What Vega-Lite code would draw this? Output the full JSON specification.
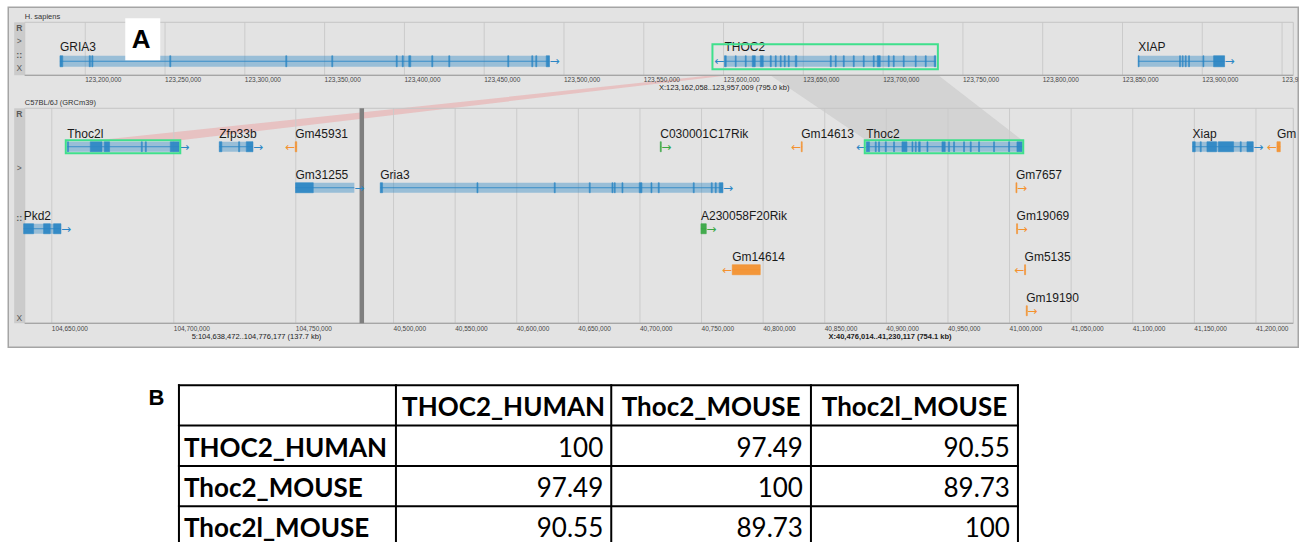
{
"$schema":"https://vega.github.io/schema/vega-lite/v6.json",
"padding":{"left":7.25,"top":6.25,"right":0,"bottom":0},
"autosize":{"type":"pad"},
"background":"#ffffff",
"spacing":0,
"bounds":"flush",
"config":{"view":{"stroke":null},"text":{"font":"Liberation Sans"}},
"datasets":{
"hGenes":[
{"name":"GRIA3","start":123184153,"end":123490915,"strand":"+","lane":0,"type":"protein_coding"},
{"name":"THOC2","start":123600561,"end":123733056,"strand":"-","lane":0,"type":"protein_coding"},
{"name":"XIAP","start":123859812,"end":123913982,"strand":"+","lane":0,"type":"protein_coding"}],
"hExons":[
{"gene":"GRIA3","start":123184153,"end":123185900,"lane":0,"type":"protein_coding"},
{"gene":"GRIA3","start":123202500,"end":123203200,"lane":0,"type":"protein_coding"},
{"gene":"GRIA3","start":123204100,"end":123204800,"lane":0,"type":"protein_coding"},
{"gene":"GRIA3","start":123252955,"end":123253600,"lane":0,"type":"protein_coding"},
{"gene":"GRIA3","start":123325649,"end":123326300,"lane":0,"type":"protein_coding"},
{"gene":"GRIA3","start":123354477,"end":123355100,"lane":0,"type":"protein_coding"},
{"gene":"GRIA3","start":123394897,"end":123395500,"lane":0,"type":"protein_coding"},
{"gene":"GRIA3","start":123398658,"end":123399300,"lane":0,"type":"protein_coding"},
{"gene":"GRIA3","start":123402731,"end":123403985,"lane":0,"type":"protein_coding"},
{"gene":"GRIA3","start":123417145,"end":123417800,"lane":0,"type":"protein_coding"},
{"gene":"GRIA3","start":123427798,"end":123428450,"lane":0,"type":"protein_coding"},
{"gene":"GRIA3","start":123464772,"end":123465400,"lane":0,"type":"protein_coding"},
{"gene":"GRIA3","start":123479813,"end":123480450,"lane":0,"type":"protein_coding"},
{"gene":"GRIA3","start":123482319,"end":123482950,"lane":0,"type":"protein_coding"},
{"gene":"GRIA3","start":123488899,"end":123490915,"lane":0,"type":"protein_coding"},
{"gene":"THOC2","start":123600561,"end":123601702,"lane":0,"type":"protein_coding"},
{"gene":"THOC2","start":123607342,"end":123607900,"lane":0,"type":"protein_coding"},
{"gene":"THOC2","start":123613609,"end":123614200,"lane":0,"type":"protein_coding"},
{"gene":"THOC2","start":123617996,"end":123619876,"lane":0,"type":"protein_coding"},
{"gene":"THOC2","start":123623009,"end":123624889,"lane":0,"type":"protein_coding"},
{"gene":"THOC2","start":123629276,"end":123629900,"lane":0,"type":"protein_coding"},
{"gene":"THOC2","start":123632409,"end":123633000,"lane":0,"type":"protein_coding"},
{"gene":"THOC2","start":123635543,"end":123636100,"lane":0,"type":"protein_coding"},
{"gene":"THOC2","start":123638049,"end":123638650,"lane":0,"type":"protein_coding"},
{"gene":"THOC2","start":123640556,"end":123641150,"lane":0,"type":"protein_coding"},
{"gene":"THOC2","start":123644943,"end":123645900,"lane":0,"type":"protein_coding"},
{"gene":"THOC2","start":123666877,"end":123667500,"lane":0,"type":"protein_coding"},
{"gene":"THOC2","start":123670010,"end":123670600,"lane":0,"type":"protein_coding"},
{"gene":"THOC2","start":123675023,"end":123675650,"lane":0,"type":"protein_coding"},
{"gene":"THOC2","start":123681290,"end":123681900,"lane":0,"type":"protein_coding"},
{"gene":"THOC2","start":123687557,"end":123688150,"lane":0,"type":"protein_coding"},
{"gene":"THOC2","start":123693824,"end":123694400,"lane":0,"type":"protein_coding"},
{"gene":"THOC2","start":123696331,"end":123698211,"lane":0,"type":"protein_coding"},
{"gene":"THOC2","start":123703224,"end":123703800,"lane":0,"type":"protein_coding"},
{"gene":"THOC2","start":123706357,"end":123706950,"lane":0,"type":"protein_coding"},
{"gene":"THOC2","start":123712624,"end":123713200,"lane":0,"type":"protein_coding"},
{"gene":"THOC2","start":123720144,"end":123720700,"lane":0,"type":"protein_coding"},
{"gene":"THOC2","start":123726411,"end":123727000,"lane":0,"type":"protein_coding"},
{"gene":"THOC2","start":123732051,"end":123733056,"lane":0,"type":"protein_coding"},
{"gene":"XIAP","start":123859812,"end":123860400,"lane":0,"type":"protein_coding"},
{"gene":"XIAP","start":123885776,"end":123886300,"lane":0,"type":"protein_coding"},
{"gene":"XIAP","start":123887468,"end":123888000,"lane":0,"type":"protein_coding"},
{"gene":"XIAP","start":123889348,"end":123889900,"lane":0,"type":"protein_coding"},
{"gene":"XIAP","start":123891416,"end":123892000,"lane":0,"type":"protein_coding"},
{"gene":"XIAP","start":123900440,"end":123901000,"lane":0,"type":"protein_coding"},
{"gene":"XIAP","start":123907083,"end":123913982,"lane":0,"type":"protein_coding"}],
"c5Genes":[
{"name":"Thoc2l","start":104656352,"end":104702254,"strand":"+","lane":0,"type":"protein_coding"},
{"name":"Zfp33b","start":104718648,"end":104732459,"strand":"+","lane":0,"type":"protein_coding"},
{"name":"Gm45931","start":104749795,"end":104750400,"strand":"-","lane":0,"type":"pseudogene"},
{"name":"Gm31255","start":104749900,"end":104774000,"strand":"+","lane":1,"type":"protein_coding"},
{"name":"Pkd2","start":104638472,"end":104653770,"strand":"+","lane":2,"type":"protein_coding"}],
"c5Exons":[
{"gene":"Thoc2l","start":104656352,"end":104656885,"lane":0,"type":"protein_coding"},
{"gene":"Thoc2l","start":104665778,"end":104670573,"lane":0,"type":"protein_coding"},
{"gene":"Thoc2l","start":104671516,"end":104673688,"lane":0,"type":"protein_coding"},
{"gene":"Thoc2l","start":104686680,"end":104687100,"lane":0,"type":"protein_coding"},
{"gene":"Thoc2l","start":104688320,"end":104688750,"lane":0,"type":"protein_coding"},
{"gene":"Thoc2l","start":104698566,"end":104702254,"lane":0,"type":"protein_coding"},
{"gene":"Zfp33b","start":104718648,"end":104719700,"lane":0,"type":"protein_coding"},
{"gene":"Zfp33b","start":104726558,"end":104727000,"lane":0,"type":"protein_coding"},
{"gene":"Zfp33b","start":104729713,"end":104732459,"lane":0,"type":"protein_coding"},
{"gene":"Gm45931","start":104749795,"end":104750400,"lane":0,"type":"pseudogene"},
{"gene":"Gm31255","start":104749900,"end":104757172,"lane":1,"type":"protein_coding"},
{"gene":"Pkd2","start":104638472,"end":104642540,"lane":2,"type":"protein_coding"},
{"gene":"Pkd2","start":104646639,"end":104649385,"lane":2,"type":"protein_coding"},
{"gene":"Pkd2","start":104650737,"end":104653770,"lane":2,"type":"protein_coding"}],
"xGenes":[
{"name":"Gria3","start":40489205,"end":40767370,"strand":"+","lane":1,"type":"protein_coding"},
{"name":"C030001C17Rik","start":40716478,"end":40717300,"strand":"+","lane":0,"type":"lncRNA"},
{"name":"Gm14613","start":40830926,"end":40831700,"strand":"-","lane":0,"type":"pseudogene"},
{"name":"Thoc2","start":40883686,"end":41010310,"strand":"-","lane":0,"type":"protein_coding"},
{"name":"Xiap","start":41148540,"end":41197810,"strand":"+","lane":0,"type":"protein_coding"},
{"name":"Gm","start":41217047,"end":41219750,"strand":"-","lane":0,"type":"pseudogene"},
{"name":"A230058F20Rik","start":40749514,"end":40753815,"strand":"+","lane":2,"type":"lncRNA"},
{"name":"Gm14614","start":40774919,"end":40797647,"strand":"-","lane":3,"type":"pseudogene"},
{"name":"Gm7657","start":41005196,"end":41006000,"strand":"+","lane":1,"type":"pseudogene"},
{"name":"Gm19069","start":41005700,"end":41006500,"strand":"+","lane":2,"type":"pseudogene"},
{"name":"Gm5135","start":41012176,"end":41013000,"strand":"-","lane":3,"type":"pseudogene"},
{"name":"Gm19190","start":41013556,"end":41014400,"strand":"+","lane":4,"type":"pseudogene"}],
"xExons":[
{"gene":"Gria3","start":40489205,"end":40491071,"lane":1,"type":"protein_coding"},
{"gene":"Gria3","start":40567695,"end":40568500,"lane":1,"type":"protein_coding"},
{"gene":"Gria3","start":40630439,"end":40631250,"lane":1,"type":"protein_coding"},
{"gene":"Gria3","start":40658848,"end":40659650,"lane":1,"type":"protein_coding"},
{"gene":"Gria3","start":40677273,"end":40678080,"lane":1,"type":"protein_coding"},
{"gene":"Gria3","start":40679140,"end":40679950,"lane":1,"type":"protein_coding"},
{"gene":"Gria3","start":40685390,"end":40686200,"lane":1,"type":"protein_coding"},
{"gene":"Gria3","start":40699432,"end":40701623,"lane":1,"type":"protein_coding"},
{"gene":"Gria3","start":40708929,"end":40709740,"lane":1,"type":"protein_coding"},
{"gene":"Gria3","start":40714854,"end":40715660,"lane":1,"type":"protein_coding"},
{"gene":"Gria3","start":40743263,"end":40744070,"lane":1,"type":"protein_coding"},
{"gene":"Gria3","start":40757874,"end":40758680,"lane":1,"type":"protein_coding"},
{"gene":"Gria3","start":40761121,"end":40761930,"lane":1,"type":"protein_coding"},
{"gene":"Gria3","start":40764367,"end":40767370,"lane":1,"type":"protein_coding"},
{"gene":"C030001C17Rik","start":40716478,"end":40717300,"lane":0,"type":"lncRNA"},
{"gene":"Gm14613","start":40830926,"end":40831700,"lane":0,"type":"pseudogene"},
{"gene":"Thoc2","start":40883686,"end":40886363,"lane":0,"type":"protein_coding"},
{"gene":"Thoc2","start":40890991,"end":40891800,"lane":0,"type":"protein_coding"},
{"gene":"Thoc2","start":40893670,"end":40894480,"lane":0,"type":"protein_coding"},
{"gene":"Thoc2","start":40899108,"end":40899920,"lane":0,"type":"protein_coding"},
{"gene":"Thoc2","start":40905845,"end":40906650,"lane":0,"type":"protein_coding"},
{"gene":"Thoc2","start":40912663,"end":40916722,"lane":0,"type":"protein_coding"},
{"gene":"Thoc2","start":40920780,"end":40921590,"lane":0,"type":"protein_coding"},
{"gene":"Thoc2","start":40923459,"end":40924270,"lane":0,"type":"protein_coding"},
{"gene":"Thoc2","start":40926137,"end":40927517,"lane":0,"type":"protein_coding"},
{"gene":"Thoc2","start":40932955,"end":40933770,"lane":0,"type":"protein_coding"},
{"gene":"Thoc2","start":40945131,"end":40947809,"lane":0,"type":"protein_coding"},
{"gene":"Thoc2","start":40950488,"end":40951300,"lane":0,"type":"protein_coding"},
{"gene":"Thoc2","start":40954546,"end":40955360,"lane":0,"type":"protein_coding"},
{"gene":"Thoc2","start":40962663,"end":40963470,"lane":0,"type":"protein_coding"},
{"gene":"Thoc2","start":40968101,"end":40968910,"lane":0,"type":"protein_coding"},
{"gene":"Thoc2","start":40974839,"end":40975650,"lane":0,"type":"protein_coding"},
{"gene":"Thoc2","start":40987014,"end":40987820,"lane":0,"type":"protein_coding"},
{"gene":"Thoc2","start":40999189,"end":41000000,"lane":0,"type":"protein_coding"},
{"gene":"Thoc2","start":41006007,"end":41010310,"lane":0,"type":"protein_coding"},
{"gene":"Xiap","start":41148540,"end":41150732,"lane":0,"type":"protein_coding"},
{"gene":"Xiap","start":41154790,"end":41155600,"lane":0,"type":"protein_coding"},
{"gene":"Xiap","start":41160229,"end":41168000,"lane":0,"type":"protein_coding"},
{"gene":"Xiap","start":41169500,"end":41181820,"lane":0,"type":"protein_coding"},
{"gene":"Xiap","start":41187258,"end":41188070,"lane":0,"type":"protein_coding"},
{"gene":"Xiap","start":41192696,"end":41197810,"lane":0,"type":"protein_coding"},
{"gene":"Gm","start":41217047,"end":41219750,"lane":0,"type":"pseudogene"},
{"gene":"A230058F20Rik","start":40749514,"end":40753815,"lane":2,"type":"lncRNA"},
{"gene":"Gm14614","start":40774919,"end":40797647,"lane":3,"type":"pseudogene"},
{"gene":"Gm7657","start":41005196,"end":41006000,"lane":1,"type":"pseudogene"},
{"gene":"Gm19069","start":41005700,"end":41006500,"lane":2,"type":"pseudogene"},
{"gene":"Gm5135","start":41012176,"end":41013000,"lane":3,"type":"pseudogene"},
{"gene":"Gm19190","start":41013556,"end":41014400,"lane":4,"type":"pseudogene"}],
"hTicks":[{"pos":123150000},{"pos":123200000},{"pos":123250000},{"pos":123300000},{"pos":123350000},{"pos":123400000},{"pos":123450000},{"pos":123500000},{"pos":123550000},{"pos":123600000},{"pos":123650000},{"pos":123700000},{"pos":123750000},{"pos":123800000},{"pos":123850000},{"pos":123900000},{"pos":123950000}],
"c5Ticks":[{"pos":104650000},{"pos":104700000},{"pos":104750000}],
"xTicks":[{"pos":40500000},{"pos":40550000},{"pos":40600000},{"pos":40650000},{"pos":40700000},{"pos":40750000},{"pos":40800000},{"pos":40850000},{"pos":40900000},{"pos":40950000},{"pos":41000000},{"pos":41050000},{"pos":41100000},{"pos":41150000},{"pos":41200000}],
"links":[
{"link":"THOC2-Thoc2l","pos":123207520,"top":1,"bot":1},
{"link":"THOC2-Thoc2l","pos":123259535,"top":0.865,"bot":1},
{"link":"THOC2-Thoc2l","pos":123592928,"top":0,"bot":0.029},
{"link":"THOC2-Thoc2l","pos":123602955,"top":0,"bot":0},
{"link":"THOC2-Thoc2","pos":123629276,"top":0,"bot":0},
{"link":"THOC2-Thoc2","pos":123689437,"top":0,"bot":1},
{"link":"THOC2-Thoc2","pos":123734558,"top":0,"bot":1},
{"link":"THOC2-Thoc2","pos":123787199,"top":1,"bot":1}],
"highlights":[
{"asm":"hg38","start":123600561,"end":123733056,"lane":0},
{"asm":"chr5","start":104656352,"end":104702254,"lane":0},
{"asm":"chrX","start":40883686,"end":41010310,"lane":0}],
"cols":[{"ci":0,"col":""},{"ci":1,"col":"THOC2_HUMAN"},{"ci":2,"col":"Thoc2_MOUSE"},{"ci":3,"col":"Thoc2l_MOUSE"}],
"rows":[{"ri":0,"row":""},{"ri":1,"row":"THOC2_HUMAN"},{"ri":2,"row":"Thoc2_MOUSE"},{"ri":3,"row":"Thoc2l_MOUSE"}],
"identity":[
{"ri":1,"ci":1,"pct":100},{"ri":1,"ci":2,"pct":97.49},{"ri":1,"ci":3,"pct":90.55},
{"ri":2,"ci":1,"pct":97.49},{"ri":2,"ci":2,"pct":100},{"ri":2,"ci":3,"pct":89.73},
{"ri":3,"ci":1,"pct":90.55},{"ri":3,"ci":2,"pct":89.73},{"ri":3,"ci":3,"pct":100}]
},
"vconcat":[
{"width":1290,"height":340,
"view":{"fill":"#e3e3e3","stroke":"#a5a5a5","strokeWidth":1.5},
"resolve":{"scale":{"x":"independent","y":"independent"}},
"layer":[
{"data":{"name":"links"},"transform":[{"filter":"datum.link === 'THOC2-Thoc2l'"}],"mark":{"type":"area","color":"#ee7b7b","opacity":0.32},
 "encoding":{"x":{"field":"pos","type":"quantitative","scale":{"domain":[123162058,123957009],"range":[16.46,1285],"nice":false,"zero":false},"axis":null},
 "y":{"field":"top","type":"quantitative","scale":{"domain":[0,1],"range":[68,133],"nice":false,"zero":false},"axis":null},"y2":{"field":"bot"}}},
{"data":{"name":"links"},"transform":[{"filter":"datum.link === 'THOC2-Thoc2'"}],"mark":{"type":"area","color":"#6f6f6f","opacity":0.14},
 "encoding":{"x":{"field":"pos","type":"quantitative","scale":{"domain":[123162058,123957009],"range":[16.46,1285],"nice":false,"zero":false},"axis":null},
 "y":{"field":"top","type":"quantitative","scale":{"domain":[0,1],"range":[68,133],"nice":false,"zero":false},"axis":null},"y2":{"field":"bot"}}},

{"data":{"name":"hTicks"},"transform":[{"filter":"datum.pos > 123162058"}],"mark":{"type":"rule","color":"#cbcbcb","strokeWidth":1},
 "encoding":{"x":{"field":"pos","type":"quantitative","scale":{"domain":[123162058,123957009],"range":[16.46,1285],"nice":false,"zero":false},"axis":null},
 "y":{"datum":-0.951,"type":"quantitative","scale":{"domain":[-0.951,0.341],"range":[15,68],"nice":false,"zero":false},"axis":null},"y2":{"datum":0.341}}},
{"data":{"name":"c5Ticks"},"mark":{"type":"rule","color":"#cbcbcb","strokeWidth":1},
 "encoding":{"x":{"field":"pos","type":"quantitative","scale":{"domain":[104638472,104776177],"range":[15.4,351.4],"nice":false,"zero":false},"axis":null},
 "y":{"datum":-0.939,"type":"quantitative","scale":{"domain":[-0.939,4.305],"range":[101,316],"nice":false,"zero":false},"axis":null},"y2":{"datum":4.305}}},
{"data":{"name":"xTicks"},"mark":{"type":"rule","color":"#cbcbcb","strokeWidth":1},
 "encoding":{"x":{"field":"pos","type":"quantitative","scale":{"domain":[40476014,41230117],"range":[355.75,1284.8],"nice":false,"zero":false},"axis":null},
 "y":{"datum":-0.939,"type":"quantitative","scale":{"domain":[-0.939,4.305],"range":[101,316],"nice":false,"zero":false},"axis":null},"y2":{"datum":4.305}}},

{"data":{"values":[{}]},"mark":{"type":"rect","filled":false,"color":"#c4c4c4","strokeWidth":1},
 "encoding":{"x":{"datum":123162058,"type":"quantitative","scale":{"domain":[123162058,123957009],"range":[16.46,1285],"nice":false,"zero":false},"axis":null},"x2":{"datum":123957009},
 "y":{"datum":-0.951,"type":"quantitative","scale":{"domain":[-0.951,0.341],"range":[15,68],"nice":false,"zero":false},"axis":null},"y2":{"datum":0.341}}},
{"data":{"values":[{}]},"mark":{"type":"rect","filled":false,"color":"#c4c4c4","strokeWidth":1},
 "encoding":{"x":{"datum":123162058,"type":"quantitative","scale":{"domain":[123162058,123957009],"range":[16.46,1285],"nice":false,"zero":false},"axis":null},"x2":{"datum":123957009},
 "y":{"datum":-0.939,"type":"quantitative","scale":{"domain":[-0.939,4.305],"range":[101,316],"nice":false,"zero":false},"axis":null},"y2":{"datum":4.305}}},
{"data":{"values":[{}]},"mark":{"type":"rect","color":"#cbcbcb","xOffset":-10.5},
 "encoding":{"x":{"datum":123162058,"type":"quantitative","scale":{"domain":[123162058,123957009],"range":[16.46,1285],"nice":false,"zero":false},"axis":null},"x2":{"datum":123162058},
 "y":{"datum":-0.951,"type":"quantitative","scale":{"domain":[-0.951,0.341],"range":[15,68],"nice":false,"zero":false},"axis":null},"y2":{"datum":0.341}}},
{"data":{"values":[{}]},"mark":{"type":"rect","color":"#cbcbcb","xOffset":-10.5},
 "encoding":{"x":{"datum":123162058,"type":"quantitative","scale":{"domain":[123162058,123957009],"range":[16.46,1285],"nice":false,"zero":false},"axis":null},"x2":{"datum":123162058},
 "y":{"datum":-0.939,"type":"quantitative","scale":{"domain":[-0.939,4.305],"range":[101,316],"nice":false,"zero":false},"axis":null},"y2":{"datum":4.305}}},
{"data":{"values":[{}]},"mark":{"type":"rule","color":"#9b9b9b","strokeWidth":1},
 "encoding":{"x":{"datum":123162058,"type":"quantitative","scale":{"domain":[123162058,123957009],"range":[16.46,1285],"nice":false,"zero":false},"axis":null},"x2":{"datum":123957009},
 "y":{"datum":0.341,"type":"quantitative","scale":{"domain":[-0.951,0.341],"range":[15,68],"nice":false,"zero":false},"axis":null}}},
{"data":{"values":[{}]},"mark":{"type":"rule","color":"#9b9b9b","strokeWidth":1},
 "encoding":{"x":{"datum":123162058,"type":"quantitative","scale":{"domain":[123162058,123957009],"range":[16.46,1285],"nice":false,"zero":false},"axis":null},"x2":{"datum":123957009},
 "y":{"datum":4.305,"type":"quantitative","scale":{"domain":[-0.939,4.305],"range":[101,316],"nice":false,"zero":false},"axis":null}}},

{"data":{"name":"hTicks"},"transform":[{"filter":"datum.pos > 123162058"}],"mark":{"type":"text","align":"left","baseline":"middle","dy":4.5,"fontSize":6.5,"color":"#474747","clip":true},
 "encoding":{"x":{"field":"pos","type":"quantitative","scale":{"domain":[123162058,123957009],"range":[16.46,1285],"nice":false,"zero":false},"axis":null},
 "y":{"datum":0.341,"type":"quantitative","scale":{"domain":[-0.951,0.341],"range":[15,68],"nice":false,"zero":false},"axis":null},
 "text":{"field":"pos","type":"quantitative","format":","}}},
{"data":{"name":"c5Ticks"},"mark":{"type":"text","align":"left","baseline":"middle","dy":5.5,"fontSize":6.5,"color":"#474747","clip":true},
 "encoding":{"x":{"field":"pos","type":"quantitative","scale":{"domain":[104638472,104776177],"range":[15.4,351.4],"nice":false,"zero":false},"axis":null},
 "y":{"datum":4.305,"type":"quantitative","scale":{"domain":[-0.939,4.305],"range":[101,316],"nice":false,"zero":false},"axis":null},
 "text":{"field":"pos","type":"quantitative","format":","}}},
{"data":{"name":"xTicks"},"mark":{"type":"text","align":"left","baseline":"middle","dy":5.5,"fontSize":6.5,"color":"#474747","clip":true},
 "encoding":{"x":{"field":"pos","type":"quantitative","scale":{"domain":[40476014,41230117],"range":[355.75,1284.8],"nice":false,"zero":false},"axis":null},
 "y":{"datum":4.305,"type":"quantitative","scale":{"domain":[-0.939,4.305],"range":[101,316],"nice":false,"zero":false},"axis":null},
 "text":{"field":"pos","type":"quantitative","format":","}}},

{"data":{"values":[{}]},"mark":{"type":"text","text":"X:123,162,058..123,957,009 (795.0 kb)","align":"left","baseline":"middle","dy":12.5,"fontSize":7.5,"color":"#222222"},
 "encoding":{"x":{"datum":123559533.5,"type":"quantitative","scale":{"domain":[123162058,123957009],"range":[16.46,1285],"nice":false,"zero":false},"axis":null},
 "y":{"datum":0.341,"type":"quantitative","scale":{"domain":[-0.951,0.341],"range":[15,68],"nice":false,"zero":false},"axis":null}}},
{"data":{"values":[{}]},"mark":{"type":"text","text":"5:104,638,472..104,776,177 (137.7 kb)","align":"left","baseline":"middle","dy":14,"fontSize":7.5,"color":"#222222"},
 "encoding":{"x":{"datum":104707324.5,"type":"quantitative","scale":{"domain":[104638472,104776177],"range":[15.4,351.4],"nice":false,"zero":false},"axis":null},
 "y":{"datum":4.305,"type":"quantitative","scale":{"domain":[-0.939,4.305],"range":[101,316],"nice":false,"zero":false},"axis":null}}},
{"data":{"values":[{}]},"mark":{"type":"text","text":"X:40,476,014..41,230,117 (754.1 kb)","align":"left","baseline":"middle","dy":14,"fontSize":7.5,"fontWeight":"bold","color":"#222222"},
 "encoding":{"x":{"datum":40853065.5,"type":"quantitative","scale":{"domain":[40476014,41230117],"range":[355.75,1284.8],"nice":false,"zero":false},"axis":null},
 "y":{"datum":4.305,"type":"quantitative","scale":{"domain":[-0.939,4.305],"range":[101,316],"nice":false,"zero":false},"axis":null}}},
{"data":{"values":[{}]},"mark":{"type":"text","text":"H. sapiens","align":"left","baseline":"middle","dy":-5,"fontSize":7.5,"color":"#333333"},
 "encoding":{"x":{"datum":123162058,"type":"quantitative","scale":{"domain":[123162058,123957009],"range":[16.46,1285],"nice":false,"zero":false},"axis":null},
 "y":{"datum":-0.951,"type":"quantitative","scale":{"domain":[-0.951,0.341],"range":[15,68],"nice":false,"zero":false},"axis":null}}},
{"data":{"values":[{}]},"mark":{"type":"text","text":"C57BL/6J (GRCm39)","align":"left","baseline":"middle","dy":-5,"fontSize":7.5,"color":"#333333"},
 "encoding":{"x":{"datum":123162058,"type":"quantitative","scale":{"domain":[123162058,123957009],"range":[16.46,1285],"nice":false,"zero":false},"axis":null},
 "y":{"datum":-0.939,"type":"quantitative","scale":{"domain":[-0.939,4.305],"range":[101,316],"nice":false,"zero":false},"axis":null}}},

{"data":{"values":[{}]},"mark":{"type":"text","text":"R","align":"center","baseline":"middle","dx":-5.5,"dy":5.5,"fontSize":8.5,"fontWeight":"bold","color":"#5a5a5a"},
 "encoding":{"x":{"datum":123162058,"type":"quantitative","scale":{"domain":[123162058,123957009],"range":[16.46,1285],"nice":false,"zero":false},"axis":null},
 "y":{"datum":-0.951,"type":"quantitative","scale":{"domain":[-0.951,0.341],"range":[15,68],"nice":false,"zero":false},"axis":null}}},
{"data":{"values":[{}]},"mark":{"type":"text","text":">","align":"center","baseline":"middle","dx":-5.5,"dy":19,"fontSize":8.5,"color":"#5a5a5a"},
 "encoding":{"x":{"datum":123162058,"type":"quantitative","scale":{"domain":[123162058,123957009],"range":[16.46,1285],"nice":false,"zero":false},"axis":null},
 "y":{"datum":-0.951,"type":"quantitative","scale":{"domain":[-0.951,0.341],"range":[15,68],"nice":false,"zero":false},"axis":null}}},
{"data":{"values":[{}]},"mark":{"type":"text","text":"::","align":"center","baseline":"middle","dx":-5.5,"dy":33,"fontSize":9,"fontWeight":"bold","color":"#5a5a5a"},
 "encoding":{"x":{"datum":123162058,"type":"quantitative","scale":{"domain":[123162058,123957009],"range":[16.46,1285],"nice":false,"zero":false},"axis":null},
 "y":{"datum":-0.951,"type":"quantitative","scale":{"domain":[-0.951,0.341],"range":[15,68],"nice":false,"zero":false},"axis":null}}},
{"data":{"values":[{}]},"mark":{"type":"text","text":"X","align":"center","baseline":"middle","dx":-5.5,"dy":-7,"fontSize":8.5,"color":"#5a5a5a"},
 "encoding":{"x":{"datum":123162058,"type":"quantitative","scale":{"domain":[123162058,123957009],"range":[16.46,1285],"nice":false,"zero":false},"axis":null},
 "y":{"datum":0.341,"type":"quantitative","scale":{"domain":[-0.951,0.341],"range":[15,68],"nice":false,"zero":false},"axis":null}}},
{"data":{"values":[{}]},"mark":{"type":"text","text":"R","align":"center","baseline":"middle","dx":-5.5,"dy":6,"fontSize":8.5,"fontWeight":"bold","color":"#5a5a5a"},
 "encoding":{"x":{"datum":123162058,"type":"quantitative","scale":{"domain":[123162058,123957009],"range":[16.46,1285],"nice":false,"zero":false},"axis":null},
 "y":{"datum":-0.939,"type":"quantitative","scale":{"domain":[-0.939,4.305],"range":[101,316],"nice":false,"zero":false},"axis":null}}},
{"data":{"values":[{}]},"mark":{"type":"text","text":">","align":"center","baseline":"middle","dx":-5.5,"dy":60,"fontSize":8.5,"color":"#5a5a5a"},
 "encoding":{"x":{"datum":123162058,"type":"quantitative","scale":{"domain":[123162058,123957009],"range":[16.46,1285],"nice":false,"zero":false},"axis":null},
 "y":{"datum":-0.939,"type":"quantitative","scale":{"domain":[-0.939,4.305],"range":[101,316],"nice":false,"zero":false},"axis":null}}},
{"data":{"values":[{}]},"mark":{"type":"text","text":"::","align":"center","baseline":"middle","dx":-5.5,"dy":110,"fontSize":9,"fontWeight":"bold","color":"#5a5a5a"},
 "encoding":{"x":{"datum":123162058,"type":"quantitative","scale":{"domain":[123162058,123957009],"range":[16.46,1285],"nice":false,"zero":false},"axis":null},
 "y":{"datum":-0.939,"type":"quantitative","scale":{"domain":[-0.939,4.305],"range":[101,316],"nice":false,"zero":false},"axis":null}}},
{"data":{"values":[{}]},"mark":{"type":"text","text":"X","align":"center","baseline":"middle","dx":-5.5,"dy":-5,"fontSize":8.5,"color":"#5a5a5a"},
 "encoding":{"x":{"datum":123162058,"type":"quantitative","scale":{"domain":[123162058,123957009],"range":[16.46,1285],"nice":false,"zero":false},"axis":null},
 "y":{"datum":4.305,"type":"quantitative","scale":{"domain":[-0.939,4.305],"range":[101,316],"nice":false,"zero":false},"axis":null}}},

{"data":{"values":[{}]},"mark":{"type":"rule","color":"#7f7f7f","strokeWidth":4.5,"xOffset":-2.2},
 "encoding":{"x":{"datum":40476014,"type":"quantitative","scale":{"domain":[40476014,41230117],"range":[355.75,1284.8],"nice":false,"zero":false},"axis":null},
 "y":{"datum":-0.939,"type":"quantitative","scale":{"domain":[-0.939,4.305],"range":[101,316],"nice":false,"zero":false},"axis":null},"y2":{"datum":4.305}}},

{"data":{"name":"hGenes"},"mark":{"type":"rect","yOffset":-5.5,"y2Offset":5.5,"opacity":0.4},
 "encoding":{"x":{"field":"start","type":"quantitative","scale":{"domain":[123162058,123957009],"range":[16.46,1285],"nice":false,"zero":false},"axis":null},"x2":{"field":"end"},
 "y":{"field":"lane","type":"quantitative","scale":{"domain":[-0.951,0.341],"range":[15,68],"nice":false,"zero":false},"axis":null},"y2":{"field":"lane"},
 "color":{"field":"type","type":"nominal","scale":{"domain":["protein_coding","lncRNA","pseudogene"],"range":["#2b86c5","#3aa845","#f4922f"]},"legend":null}}},
{"data":{"name":"hGenes"},"mark":{"type":"rule","strokeWidth":1,"opacity":0.85},
 "encoding":{"x":{"field":"start","type":"quantitative","scale":{"domain":[123162058,123957009],"range":[16.46,1285],"nice":false,"zero":false},"axis":null},"x2":{"field":"end"},
 "y":{"field":"lane","type":"quantitative","scale":{"domain":[-0.951,0.341],"range":[15,68],"nice":false,"zero":false},"axis":null},
 "color":{"field":"type","type":"nominal","scale":{"domain":["protein_coding","lncRNA","pseudogene"],"range":["#2b86c5","#3aa845","#f4922f"]},"legend":null}}},
{"data":{"name":"hExons"},"mark":{"type":"rect","yOffset":-5.5,"y2Offset":5.5,"opacity":0.9,"strokeWidth":0.6},
 "encoding":{"x":{"field":"start","type":"quantitative","scale":{"domain":[123162058,123957009],"range":[16.46,1285],"nice":false,"zero":false},"axis":null},"x2":{"field":"end"},
 "y":{"field":"lane","type":"quantitative","scale":{"domain":[-0.951,0.341],"range":[15,68],"nice":false,"zero":false},"axis":null},"y2":{"field":"lane"},
 "color":{"field":"type","type":"nominal","scale":{"domain":["protein_coding","lncRNA","pseudogene"],"range":["#2b86c5","#3aa845","#f4922f"]},"legend":null},
 "stroke":{"field":"type","type":"nominal","scale":{"domain":["protein_coding","lncRNA","pseudogene"],"range":["#2b86c5","#3aa845","#f4922f"]},"legend":null}}},
{"data":{"name":"hGenes"},"transform":[{"filter":"datum.strand === '+'"}],"mark":{"type":"text","text":"→","font":"DejaVu Sans","fontSize":12,"align":"left","baseline":"middle","dy":0},
 "encoding":{"x":{"field":"end","type":"quantitative","scale":{"domain":[123162058,123957009],"range":[16.46,1285],"nice":false,"zero":false},"axis":null},
 "y":{"field":"lane","type":"quantitative","scale":{"domain":[-0.951,0.341],"range":[15,68],"nice":false,"zero":false},"axis":null},
 "color":{"field":"type","type":"nominal","scale":{"domain":["protein_coding","lncRNA","pseudogene"],"range":["#2b86c5","#3aa845","#f4922f"]},"legend":null}}},
{"data":{"name":"hGenes"},"transform":[{"filter":"datum.strand === '-'"}],"mark":{"type":"text","text":"←","font":"DejaVu Sans","fontSize":12,"align":"right","baseline":"middle","dy":0},
 "encoding":{"x":{"field":"start","type":"quantitative","scale":{"domain":[123162058,123957009],"range":[16.46,1285],"nice":false,"zero":false},"axis":null},
 "y":{"field":"lane","type":"quantitative","scale":{"domain":[-0.951,0.341],"range":[15,68],"nice":false,"zero":false},"axis":null},
 "color":{"field":"type","type":"nominal","scale":{"domain":["protein_coding","lncRNA","pseudogene"],"range":["#2b86c5","#3aa845","#f4922f"]},"legend":null}}},
{"data":{"name":"hGenes"},"mark":{"type":"text","align":"left","baseline":"middle","dy":-14,"fontSize":12,"color":"#1a1a1a"},
 "encoding":{"x":{"field":"start","type":"quantitative","scale":{"domain":[123162058,123957009],"range":[16.46,1285],"nice":false,"zero":false},"axis":null},
 "y":{"field":"lane","type":"quantitative","scale":{"domain":[-0.951,0.341],"range":[15,68],"nice":false,"zero":false},"axis":null},
 "text":{"field":"name"}}},

{"data":{"name":"c5Genes"},"mark":{"type":"rect","yOffset":-5,"y2Offset":5,"opacity":0.4},
 "encoding":{"x":{"field":"start","type":"quantitative","scale":{"domain":[104638472,104776177],"range":[15.4,351.4],"nice":false,"zero":false},"axis":null},"x2":{"field":"end"},
 "y":{"field":"lane","type":"quantitative","scale":{"domain":[-0.939,4.305],"range":[101,316],"nice":false,"zero":false},"axis":null},"y2":{"field":"lane"},
 "color":{"field":"type","type":"nominal","scale":{"domain":["protein_coding","lncRNA","pseudogene"],"range":["#2b86c5","#3aa845","#f4922f"]},"legend":null}}},
{"data":{"name":"c5Genes"},"mark":{"type":"rule","strokeWidth":1,"opacity":0.85},
 "encoding":{"x":{"field":"start","type":"quantitative","scale":{"domain":[104638472,104776177],"range":[15.4,351.4],"nice":false,"zero":false},"axis":null},"x2":{"field":"end"},
 "y":{"field":"lane","type":"quantitative","scale":{"domain":[-0.939,4.305],"range":[101,316],"nice":false,"zero":false},"axis":null},
 "color":{"field":"type","type":"nominal","scale":{"domain":["protein_coding","lncRNA","pseudogene"],"range":["#2b86c5","#3aa845","#f4922f"]},"legend":null}}},
{"data":{"name":"c5Exons"},"mark":{"type":"rect","yOffset":-5,"y2Offset":5,"opacity":0.9,"strokeWidth":0.6},
 "encoding":{"x":{"field":"start","type":"quantitative","scale":{"domain":[104638472,104776177],"range":[15.4,351.4],"nice":false,"zero":false},"axis":null},"x2":{"field":"end"},
 "y":{"field":"lane","type":"quantitative","scale":{"domain":[-0.939,4.305],"range":[101,316],"nice":false,"zero":false},"axis":null},"y2":{"field":"lane"},
 "color":{"field":"type","type":"nominal","scale":{"domain":["protein_coding","lncRNA","pseudogene"],"range":["#2b86c5","#3aa845","#f4922f"]},"legend":null},
 "stroke":{"field":"type","type":"nominal","scale":{"domain":["protein_coding","lncRNA","pseudogene"],"range":["#2b86c5","#3aa845","#f4922f"]},"legend":null}}},
{"data":{"name":"c5Genes"},"transform":[{"filter":"datum.strand === '+'"}],"mark":{"type":"text","text":"→","font":"DejaVu Sans","fontSize":12,"align":"left","baseline":"middle","dy":0},
 "encoding":{"x":{"field":"end","type":"quantitative","scale":{"domain":[104638472,104776177],"range":[15.4,351.4],"nice":false,"zero":false},"axis":null},
 "y":{"field":"lane","type":"quantitative","scale":{"domain":[-0.939,4.305],"range":[101,316],"nice":false,"zero":false},"axis":null},
 "color":{"field":"type","type":"nominal","scale":{"domain":["protein_coding","lncRNA","pseudogene"],"range":["#2b86c5","#3aa845","#f4922f"]},"legend":null}}},
{"data":{"name":"c5Genes"},"transform":[{"filter":"datum.strand === '-'"}],"mark":{"type":"text","text":"←","font":"DejaVu Sans","fontSize":12,"align":"right","baseline":"middle","dy":0},
 "encoding":{"x":{"field":"start","type":"quantitative","scale":{"domain":[104638472,104776177],"range":[15.4,351.4],"nice":false,"zero":false},"axis":null},
 "y":{"field":"lane","type":"quantitative","scale":{"domain":[-0.939,4.305],"range":[101,316],"nice":false,"zero":false},"axis":null},
 "color":{"field":"type","type":"nominal","scale":{"domain":["protein_coding","lncRNA","pseudogene"],"range":["#2b86c5","#3aa845","#f4922f"]},"legend":null}}},
{"data":{"name":"c5Genes"},"mark":{"type":"text","align":"left","baseline":"middle","dy":-12.5,"fontSize":12,"color":"#1a1a1a"},
 "encoding":{"x":{"field":"start","type":"quantitative","scale":{"domain":[104638472,104776177],"range":[15.4,351.4],"nice":false,"zero":false},"axis":null},
 "y":{"field":"lane","type":"quantitative","scale":{"domain":[-0.939,4.305],"range":[101,316],"nice":false,"zero":false},"axis":null},
 "text":{"field":"name"}}},

{"data":{"name":"xGenes"},"mark":{"type":"rect","yOffset":-5,"y2Offset":5,"opacity":0.4},
 "encoding":{"x":{"field":"start","type":"quantitative","scale":{"domain":[40476014,41230117],"range":[355.75,1284.8],"nice":false,"zero":false},"axis":null},"x2":{"field":"end"},
 "y":{"field":"lane","type":"quantitative","scale":{"domain":[-0.939,4.305],"range":[101,316],"nice":false,"zero":false},"axis":null},"y2":{"field":"lane"},
 "color":{"field":"type","type":"nominal","scale":{"domain":["protein_coding","lncRNA","pseudogene"],"range":["#2b86c5","#3aa845","#f4922f"]},"legend":null}}},
{"data":{"name":"xGenes"},"mark":{"type":"rule","strokeWidth":1,"opacity":0.85},
 "encoding":{"x":{"field":"start","type":"quantitative","scale":{"domain":[40476014,41230117],"range":[355.75,1284.8],"nice":false,"zero":false},"axis":null},"x2":{"field":"end"},
 "y":{"field":"lane","type":"quantitative","scale":{"domain":[-0.939,4.305],"range":[101,316],"nice":false,"zero":false},"axis":null},
 "color":{"field":"type","type":"nominal","scale":{"domain":["protein_coding","lncRNA","pseudogene"],"range":["#2b86c5","#3aa845","#f4922f"]},"legend":null}}},
{"data":{"name":"xExons"},"mark":{"type":"rect","yOffset":-5,"y2Offset":5,"opacity":0.9,"strokeWidth":0.6},
 "encoding":{"x":{"field":"start","type":"quantitative","scale":{"domain":[40476014,41230117],"range":[355.75,1284.8],"nice":false,"zero":false},"axis":null},"x2":{"field":"end"},
 "y":{"field":"lane","type":"quantitative","scale":{"domain":[-0.939,4.305],"range":[101,316],"nice":false,"zero":false},"axis":null},"y2":{"field":"lane"},
 "color":{"field":"type","type":"nominal","scale":{"domain":["protein_coding","lncRNA","pseudogene"],"range":["#2b86c5","#3aa845","#f4922f"]},"legend":null},
 "stroke":{"field":"type","type":"nominal","scale":{"domain":["protein_coding","lncRNA","pseudogene"],"range":["#2b86c5","#3aa845","#f4922f"]},"legend":null}}},
{"data":{"name":"xGenes"},"transform":[{"filter":"datum.strand === '+'"}],"mark":{"type":"text","text":"→","font":"DejaVu Sans","fontSize":12,"align":"left","baseline":"middle","dy":0},
 "encoding":{"x":{"field":"end","type":"quantitative","scale":{"domain":[40476014,41230117],"range":[355.75,1284.8],"nice":false,"zero":false},"axis":null},
 "y":{"field":"lane","type":"quantitative","scale":{"domain":[-0.939,4.305],"range":[101,316],"nice":false,"zero":false},"axis":null},
 "color":{"field":"type","type":"nominal","scale":{"domain":["protein_coding","lncRNA","pseudogene"],"range":["#2b86c5","#3aa845","#f4922f"]},"legend":null}}},
{"data":{"name":"xGenes"},"transform":[{"filter":"datum.strand === '-'"}],"mark":{"type":"text","text":"←","font":"DejaVu Sans","fontSize":12,"align":"right","baseline":"middle","dy":0},
 "encoding":{"x":{"field":"start","type":"quantitative","scale":{"domain":[40476014,41230117],"range":[355.75,1284.8],"nice":false,"zero":false},"axis":null},
 "y":{"field":"lane","type":"quantitative","scale":{"domain":[-0.939,4.305],"range":[101,316],"nice":false,"zero":false},"axis":null},
 "color":{"field":"type","type":"nominal","scale":{"domain":["protein_coding","lncRNA","pseudogene"],"range":["#2b86c5","#3aa845","#f4922f"]},"legend":null}}},
{"data":{"name":"xGenes"},"mark":{"type":"text","align":"left","baseline":"middle","dy":-12.5,"fontSize":12,"color":"#1a1a1a"},
 "encoding":{"x":{"field":"start","type":"quantitative","scale":{"domain":[40476014,41230117],"range":[355.75,1284.8],"nice":false,"zero":false},"axis":null},
 "y":{"field":"lane","type":"quantitative","scale":{"domain":[-0.939,4.305],"range":[101,316],"nice":false,"zero":false},"axis":null},
 "text":{"field":"name"}}},

{"data":{"name":"highlights"},"transform":[{"filter":"datum.asm === 'hg38'"}],"mark":{"type":"rect","filled":false,"color":"#3fe08c","strokeWidth":2,"xOffset":-12,"x2Offset":2,"yOffset":-17,"y2Offset":8},
 "encoding":{"x":{"field":"start","type":"quantitative","scale":{"domain":[123162058,123957009],"range":[16.46,1285],"nice":false,"zero":false},"axis":null},"x2":{"field":"end"},
 "y":{"field":"lane","type":"quantitative","scale":{"domain":[-0.951,0.341],"range":[15,68],"nice":false,"zero":false},"axis":null},"y2":{"field":"lane"}}},
{"data":{"name":"highlights"},"transform":[{"filter":"datum.asm === 'chr5'"}],"mark":{"type":"rect","filled":false,"color":"#3fe08c","strokeWidth":2,"xOffset":-1.5,"x2Offset":1,"yOffset":-6.5,"y2Offset":6.5},
 "encoding":{"x":{"field":"start","type":"quantitative","scale":{"domain":[104638472,104776177],"range":[15.4,351.4],"nice":false,"zero":false},"axis":null},"x2":{"field":"end"},
 "y":{"field":"lane","type":"quantitative","scale":{"domain":[-0.939,4.305],"range":[101,316],"nice":false,"zero":false},"axis":null},"y2":{"field":"lane"}}},
{"data":{"name":"highlights"},"transform":[{"filter":"datum.asm === 'chrX'"}],"mark":{"type":"rect","filled":false,"color":"#3fe08c","strokeWidth":2,"xOffset":-1.5,"x2Offset":1,"yOffset":-6.5,"y2Offset":6.5},
 "encoding":{"x":{"field":"start","type":"quantitative","scale":{"domain":[40476014,41230117],"range":[355.75,1284.8],"nice":false,"zero":false},"axis":null},"x2":{"field":"end"},
 "y":{"field":"lane","type":"quantitative","scale":{"domain":[-0.939,4.305],"range":[101,316],"nice":false,"zero":false},"axis":null},"y2":{"field":"lane"}}},

{"data":{"values":[{}]},"mark":{"type":"rect","color":"#ffffff"},
 "encoding":{"x":{"datum":123225067,"type":"quantitative","scale":{"domain":[123162058,123957009],"range":[16.46,1285],"nice":false,"zero":false},"axis":null},"x2":{"datum":123247001},
 "y":{"datum":-1.048,"type":"quantitative","scale":{"domain":[-0.951,0.341],"range":[15,68],"nice":false,"zero":false},"axis":null},"y2":{"datum":-0.025}}},
{"data":{"values":[{}]},"mark":{"type":"text","text":"A","align":"center","baseline":"middle","fontSize":26,"fontWeight":"bold","color":"#000000"},
 "encoding":{"x":{"datum":123235094,"type":"quantitative","scale":{"domain":[123162058,123957009],"range":[16.46,1285],"nice":false,"zero":false},"axis":null},
 "y":{"datum":-0.512,"type":"quantitative","scale":{"domain":[-0.951,0.341],"range":[15,68],"nice":false,"zero":false},"axis":null}}}
]},

{"width":1290,"height":195,
"resolve":{"scale":{"x":"independent","y":"independent"}},
"layer":[
{"data":{"name":"cols"},"mark":{"type":"rule","color":"#000000","strokeWidth":2,"strokeCap":"square","clip":true},
 "encoding":{"x":{"field":"ci","type":"quantitative","scale":{"domain":[0,1,2,3,4],"range":[170.7,387.7,603,802.7,1009.7],"nice":false,"zero":false},"axis":null},
 "y":{"datum":0,"type":"quantitative","scale":{"domain":[0,4],"range":[38,199.3],"nice":false,"zero":false},"axis":null},"y2":{"datum":4}}},
{"data":{"values":[{}]},"mark":{"type":"rule","color":"#000000","strokeWidth":2,"strokeCap":"square","clip":true},
 "encoding":{"x":{"datum":4,"type":"quantitative","scale":{"domain":[0,1,2,3,4],"range":[170.7,387.7,603,802.7,1009.7],"nice":false,"zero":false},"axis":null},
 "y":{"datum":0,"type":"quantitative","scale":{"domain":[0,4],"range":[38,199.3],"nice":false,"zero":false},"axis":null},"y2":{"datum":4}}},
{"data":{"name":"rows"},"mark":{"type":"rule","color":"#000000","strokeWidth":2,"strokeCap":"square","clip":true},
 "encoding":{"y":{"field":"ri","type":"quantitative","scale":{"domain":[0,4],"range":[38,199.3],"nice":false,"zero":false},"axis":null},
 "x":{"datum":0,"type":"quantitative","scale":{"domain":[0,1,2,3,4],"range":[170.7,387.7,603,802.7,1009.7],"nice":false,"zero":false},"axis":null},"x2":{"datum":4}}},
{"data":{"name":"cols"},"transform":[{"filter":"datum.ci > 0"}],"mark":{"type":"text","font":"Lato","fontWeight":"bold","fontSize":26,"align":"center","baseline":"middle","dy":3,"color":"#000000"},
 "encoding":{"x":{"field":"ci","type":"quantitative","scale":{"domain":[1,2,3],"range":[495.35,702.85,906.2],"nice":false,"zero":false},"axis":null},
 "y":{"datum":0,"type":"quantitative","scale":{"domain":[0,4],"range":[58.15,219.35],"nice":false,"zero":false},"axis":null},
 "text":{"field":"col"}}},
{"data":{"name":"rows"},"transform":[{"filter":"datum.ri > 0"}],"mark":{"type":"text","font":"Lato","fontWeight":"bold","fontSize":26,"align":"left","baseline":"middle","dx":5,"dy":3,"color":"#000000"},
 "encoding":{"x":{"datum":0,"type":"quantitative","scale":{"domain":[0,1,2,3,4],"range":[170.7,387.7,603,802.7,1009.7],"nice":false,"zero":false},"axis":null},
 "y":{"field":"ri","type":"quantitative","scale":{"domain":[0,4],"range":[58.15,219.35],"nice":false,"zero":false},"axis":null},
 "text":{"field":"row"}}},
{"data":{"name":"identity"},"mark":{"type":"text","font":"Lato","fontSize":26,"align":"right","baseline":"middle","dx":-8,"dy":3,"color":"#000000"},
 "encoding":{"x":{"field":"ci","type":"quantitative","scale":{"domain":[1,2,3],"range":[603,802.7,1009.7],"nice":false,"zero":false},"axis":null},
 "y":{"field":"ri","type":"quantitative","scale":{"domain":[0,4],"range":[58.15,219.35],"nice":false,"zero":false},"axis":null},
 "text":{"field":"pct","type":"quantitative"}}},
{"data":{"values":[{}]},"mark":{"type":"text","text":"B","fontSize":22,"fontWeight":"bold","align":"center","baseline":"middle","dx":-22.5,"dy":13,"color":"#000000"},
 "encoding":{"x":{"datum":0,"type":"quantitative","scale":{"domain":[0,1,2,3,4],"range":[170.7,387.7,603,802.7,1009.7],"nice":false,"zero":false},"axis":null},
 "y":{"datum":0,"type":"quantitative","scale":{"domain":[0,4],"range":[38,199.3],"nice":false,"zero":false},"axis":null}}}
]}
]
}
